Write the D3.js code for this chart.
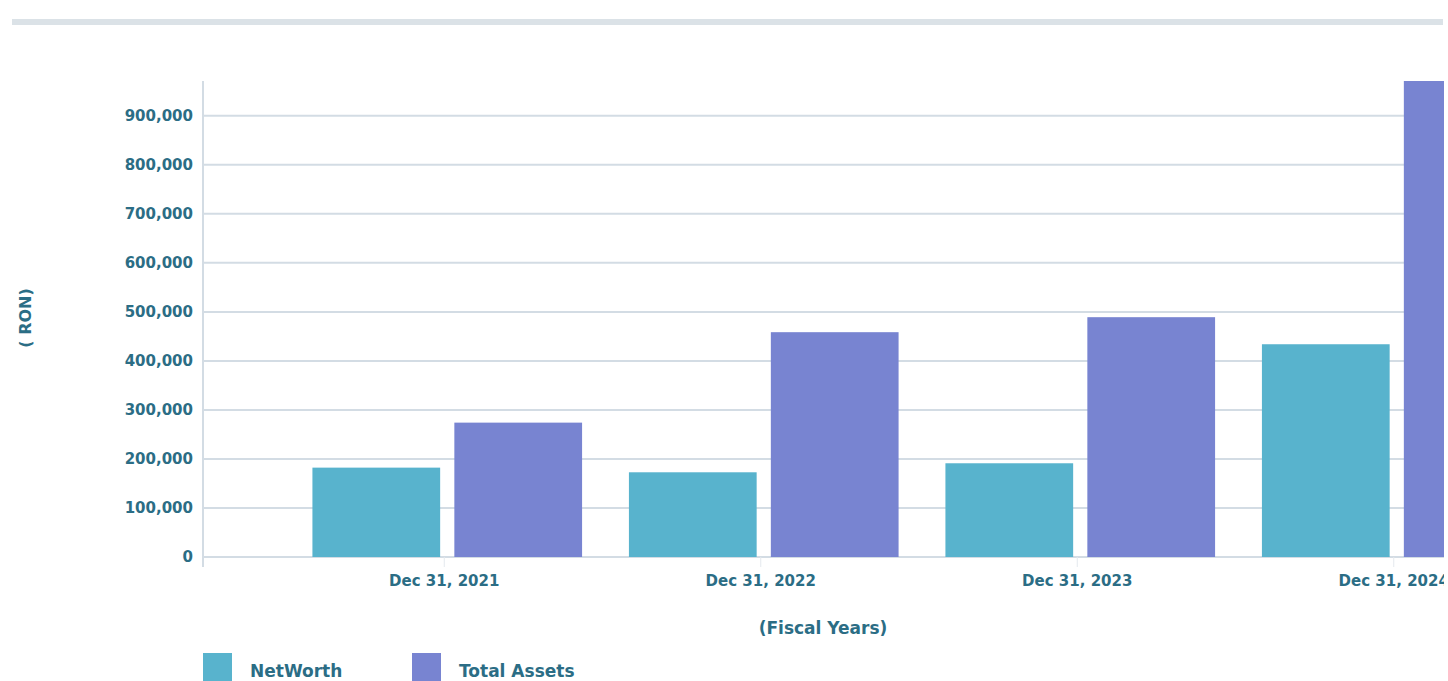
<!DOCTYPE html>
<html>
<head>
<meta charset="utf-8">
<script src="https://cdn.jsdelivr.net/npm/d3@7"></script>
<style>
  body { margin: 0; background: #fff; overflow: hidden; }
  svg { display: block; font-family: "DejaVu Sans", sans-serif; font-weight: bold; }
</style>
</head>
<body>
<div class="chart"></div>
<script>
const years = ["Dec 31, 2021", "Dec 31, 2022", "Dec 31, 2023", "Dec 31, 2024"];
const series = ["NetWorth", "Total Assets"];
const netWorth = [182300, 172800, 191200, 434000];
const totalAssets = [274100, 458600, 489200, 971000];
const yTicks = [0, 100000, 200000, 300000, 400000, 500000, 600000, 700000, 800000, 900000];
const colors = ["#58b3cd", "#7884d1"];

const w = 1444;
const h = 681;
const textColor = "#2b6d85";
const gridColor = "#d3dce4";

var svg = d3.select(".chart").append("svg")
  .attr("width", w)
  .attr("height", h);

// top separator bar
svg.append("rect")
  .attr("x", 12).attr("y", 19)
  .attr("width", 1431).attr("height", 6)
  .attr("fill", "#dbe2e7");

var plotLeft = 203, plotRight = 1444, plotBottom = 557, plotTop = 81;

var y = d3.scaleLinear()
  .domain([0, d3.max(totalAssets)])
  .range([plotBottom, plotTop]);

var x0 = d3.scaleBand()
  .domain(years)
  .range([289, 1555])
  .paddingInner(0.148)
  .paddingOuter(0.074);

var x1 = d3.scaleBand()
  .domain(series)
  .range([0, x0.bandwidth()])
  .paddingInner(0.1);

// gridlines
svg.append("g")
  .selectAll("line")
  .data(yTicks)
  .enter().append("line")
  .attr("x1", plotLeft).attr("x2", plotRight)
  .attr("y1", d => y(d)).attr("y2", d => y(d))
  .attr("stroke", gridColor)
  .attr("stroke-width", 2);

// y axis line
svg.append("line")
  .attr("x1", plotLeft).attr("x2", plotLeft)
  .attr("y1", plotTop).attr("y2", plotBottom + 10)
  .attr("stroke", gridColor)
  .attr("stroke-width", 2);

// y axis labels
var yAxis = d3.axisLeft(y)
  .tickValues(yTicks)
  .tickFormat(d3.format(","))
  .tickSize(0)
  .tickPadding(10);

var gy = svg.append("g")
  .attr("transform", "translate(" + plotLeft + ",0)")
  .call(yAxis);
gy.select(".domain").remove();
gy.selectAll("text")
  .attr("fill", textColor)
  .style("font-size", "15px")
  .style("font-family", "DejaVu Sans")
  .style("font-weight", "bold");

// bars
var rows = years.map((yr, i) => ({ year: yr, values: [netWorth[i], totalAssets[i]] }));

var groups = svg.append("g")
  .selectAll("g")
  .data(rows)
  .enter().append("g")
  .attr("transform", d => "translate(" + x0(d.year) + ",0)");

groups.selectAll("rect")
  .data(d => d.values.map((v, j) => ({ key: series[j], value: v, idx: j })))
  .enter().append("rect")
  .attr("x", d => x1(d.key))
  .attr("y", d => y(d.value))
  .attr("width", x1.bandwidth())
  .attr("height", d => plotBottom - y(d.value))
  .attr("fill", d => colors[d.idx]);

// x axis
var xAxis = d3.axisBottom(x0)
  .tickSize(10)
  .tickPadding(8);

var gx = svg.append("g")
  .attr("transform", "translate(-3," + plotBottom + ")")
  .call(xAxis);
gx.select(".domain").remove();
gx.selectAll(".tick line").attr("stroke", "#e4e9ee").attr("stroke-width", 1);
gx.selectAll("text")
  .attr("fill", textColor)
  .style("font-size", "15px")
  .style("font-family", "DejaVu Sans")
  .style("font-weight", "bold");

// axis titles
svg.append("text")
  .attr("x", 823).attr("y", 634)
  .attr("text-anchor", "middle")
  .attr("fill", textColor)
  .style("font-size", "17px")
  .text("(Fiscal Years)");

svg.append("text")
  .attr("transform", "translate(31,318) rotate(-90)")
  .attr("text-anchor", "middle")
  .attr("fill", textColor)
  .style("font-size", "16px")
  .text("( RON)");

// legend
var legendX = [203, 412];
var legend = svg.append("g")
  .selectAll("g")
  .data(series)
  .enter().append("g")
  .attr("transform", (d, i) => "translate(" + legendX[i] + ",653)");

legend.append("rect")
  .attr("width", 29).attr("height", 29)
  .attr("fill", (d, i) => colors[i]);

legend.append("text")
  .attr("x", 47).attr("y", 24)
  .attr("fill", textColor)
  .style("font-size", "17px")
  .text(d => d);
</script>
</body>
</html>
